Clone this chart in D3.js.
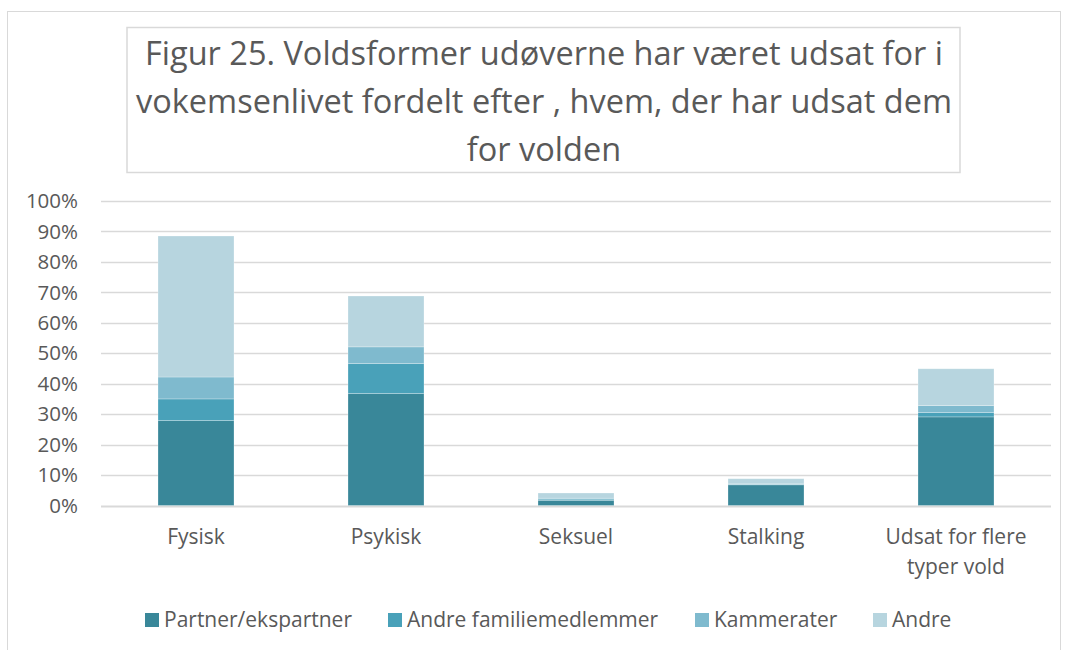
<!DOCTYPE html>
<html>
<head>
<meta charset="utf-8">
<script src="https://cdn.jsdelivr.net/npm/d3@7"></script>
<style>
  body { margin: 0; background: #fff; }
  svg text { font-family: "Open Sans", Lato, sans-serif; fill: #595959; }
</style>
</head>
<body>
<svg id="chart" width="1065" height="650"></svg>
<script>
// data (percent)
var categories = ["Fysisk", "Psykisk", "Seksuel", "Stalking", "Udsat for flere typer vold"];
var seriesNames = ["Partner/ekspartner", "Andre familiemedlemmer", "Kammerater", "Andre"];
var partner = [27.9, 36.8, 1.7, 6.8, 29.1];
var familie = [7.1, 9.8, 0.4, 0.1, 1.4];
var kammerater = [7.2, 5.5, 0.3, 0.2, 2.3];
var andre = [46.3, 16.7, 1.7, 1.7, 12.1];
var yTicks = [0, 10, 20, 30, 40, 50, 60, 70, 80, 90, 100];
var colors = ["#398799", "#49a1b9", "#7fbace", "#b7d5df"];
var titleLines = [
    "Figur 25. Voldsformer udøverne har været udsat for i",
    "vokemsenlivet fordelt efter , hvem, der har udsat dem",
    "for volden"
];

var svg = d3.select("#chart");

// outer chart frame
svg.append("rect")
    .attr("x", 7.5).attr("y", 11.5)
    .attr("width", 1053).attr("height", 660)
    .attr("fill", "none").attr("stroke", "#d9d9d9");

// title box
svg.append("rect")
    .attr("x", 127).attr("y", 27.5)
    .attr("width", 833).attr("height", 145)
    .attr("fill", "#fff").attr("stroke", "#d9d9d9").attr("stroke-width", 1.5);

svg.append("g")
    .selectAll("text")
    .data(titleLines)
    .enter()
    .append("text")
    .attr("x", 544)
    .attr("y", (d, i) => 65 + i * 48)
    .attr("text-anchor", "middle")
    .style("font-size", "32.5px")
    .text(d => d);

var rows = categories.map((c, i) => ({
    cat: c,
    "Partner/ekspartner": partner[i],
    "Andre familiemedlemmer": familie[i],
    "Kammerater": kammerater[i],
    "Andre": andre[i]
}));

var stacked = d3.stack().keys(seriesNames)(rows);

var x = d3.scaleBand()
    .domain(categories)
    .range([101, 1051])
    .paddingInner(0.6)
    .paddingOuter(0.3);

var y = d3.scaleLinear()
    .domain([0, 100])
    .range([505.5, 201]);

// gridlines
svg.append("g")
    .selectAll("line")
    .data(yTicks)
    .enter()
    .append("line")
    .attr("x1", 101).attr("x2", 1051)
    .attr("y1", d => Math.round(y(d)) + 0.5)
    .attr("y2", d => Math.round(y(d)) + 0.5)
    .attr("stroke", "#d9d9d9")
    .attr("stroke-width", d => d == 0 ? 2 : 1.5);

// y tick labels
svg.append("g")
    .selectAll("text")
    .data(yTicks)
    .enter()
    .append("text")
    .attr("x", 78)
    .attr("y", d => y(d))
    .attr("dy", "0.35em")
    .attr("text-anchor", "end")
    .style("font-size", "20.5px")
    .text(d => d + "%");

// bars
svg.append("g")
    .selectAll("g")
    .data(stacked)
    .enter()
    .append("g")
    .attr("fill", (d, i) => colors[i])
    .selectAll("rect")
    .data(d => d)
    .enter()
    .append("rect")
    .attr("x", d => x(d.data.cat))
    .attr("width", x.bandwidth())
    .attr("y", d => y(d[1]))
    .attr("height", d => y(d[0]) - y(d[1]))
    .attr("stroke", "#ffffff")
    .attr("stroke-opacity", 0.35)
    .attr("stroke-width", 0.75);

// category labels (wrapped like Excel)
var catLines = {
    "Udsat for flere typer vold": ["Udsat for flere", "typer vold"]
};
var catG = svg.append("g")
    .selectAll("text")
    .data(categories)
    .enter()
    .append("text")
    .attr("text-anchor", "middle")
    .style("font-size", "21px");
catG.selectAll("tspan")
    .data(d => (catLines[d] || [d]).map(t => ({ t: t, cat: d })))
    .enter()
    .append("tspan")
    .attr("x", d => x(d.cat) + x.bandwidth() / 2)
    .attr("y", (d, i) => 544 + i * 29.5)
    .text(d => d.t);

// legend
var legendX = [145, 388, 695, 873];
var legend = svg.append("g")
    .selectAll("g")
    .data(seriesNames)
    .enter()
    .append("g")
    .attr("transform", (d, i) => "translate(" + legendX[i] + ",613)");
legend.append("rect")
    .attr("width", 14).attr("height", 14)
    .attr("fill", (d, i) => colors[i]);
legend.append("text")
    .attr("x", 19)
    .attr("y", 7)
    .attr("dy", "0.35em")
    .style("font-size", "21px")
    .text(d => d);
</script>
</body>
</html>
